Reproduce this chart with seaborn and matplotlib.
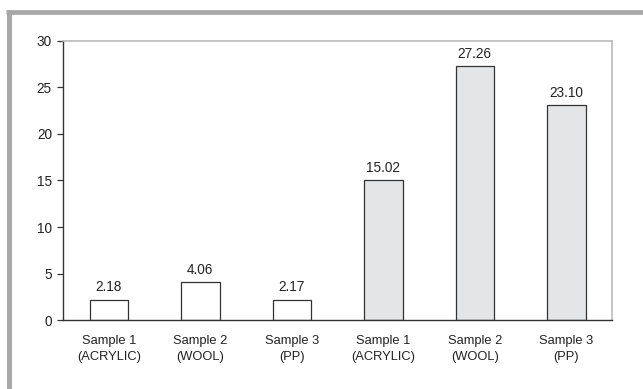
import numpy as np
import pandas as pd
import matplotlib
matplotlib.use("Agg")
import matplotlib.pyplot as plt
import seaborn as sns
from matplotlib.lines import Line2D

sns.set_style("white")
plt.rcParams["font.family"] = ["Liberation Sans", "DejaVu Sans"]

# data
samples = ["Sample 1\n(ACRYLIC)", "Sample 2\n(WOOL)", "Sample 3\n(PP)",
           "Sample 1\n(ACRYLIC)", "Sample 2\n(WOOL)", "Sample 3\n(PP)"]
values = [2.18, 4.06, 2.17, 15.02, 27.26, 23.10]
groups = ["set 1", "set 1", "set 1", "set 2", "set 2", "set 2"]
colors = {"set 1": "white", "set 2": "#e4e5e7"}

df = pd.DataFrame({"pos": [str(i) for i in range(len(samples))],
                   "value": values, "group": groups})

fig = plt.figure(figsize=(6.43, 3.89), dpi=100)
ax = fig.add_axes([0.098, 0.177, 0.854, 0.718])

sns.barplot(data=df, x="pos", y="value", hue="group", palette=colors,
            dodge=False, width=0.42, edgecolor="#333333", linewidth=0.9,
            legend=False, ax=ax)

for c in ax.containers:
    ax.bar_label(c, fmt="%.2f", padding=4, fontsize=9.8, color="#222222")

ax.set_xlim(-0.5, len(samples) - 0.5)
ax.set_ylim(0, 30)
ax.set_yticks([0, 5, 10, 15, 20, 25, 30])
ax.set_xticks(range(len(samples)))
ax.set_xticklabels(samples, fontsize=9.3, color="#222222", linespacing=1.35)
ax.set_xticks(np.arange(-0.5, len(samples), 1.0), minor=True)
ax.tick_params(axis="x", which="major", length=0, pad=11)
ax.tick_params(axis="x", which="minor", length=4, width=0.9, color="#333333", direction="out")
ax.tick_params(axis="y", length=4, width=0.9, color="#333333", direction="out",
               labelsize=9.8, labelcolor="#222222", left=True, pad=4)
ax.set_xlabel("")
ax.set_ylabel("")

for s in ["left", "bottom"]:
    ax.spines[s].set_color("#333333")
    ax.spines[s].set_linewidth(1.0)
for s in ["top", "right"]:
    ax.spines[s].set_color("#bbbbbb")
    ax.spines[s].set_linewidth(1.2)

# gray frame on top and left of the figure
fig.add_artist(Line2D([6 / 643, 1.0], [1 - 12.3 / 389] * 2, color="#a8a8a8",
                      linewidth=3.4, solid_capstyle="butt", transform=fig.transFigure))
fig.add_artist(Line2D([8.5 / 643] * 2, [0.0, 1 - 10 / 389], color="#a8a8a8",
                      linewidth=3.6, solid_capstyle="butt", transform=fig.transFigure))

fig.savefig("out.png", dpi=100)
